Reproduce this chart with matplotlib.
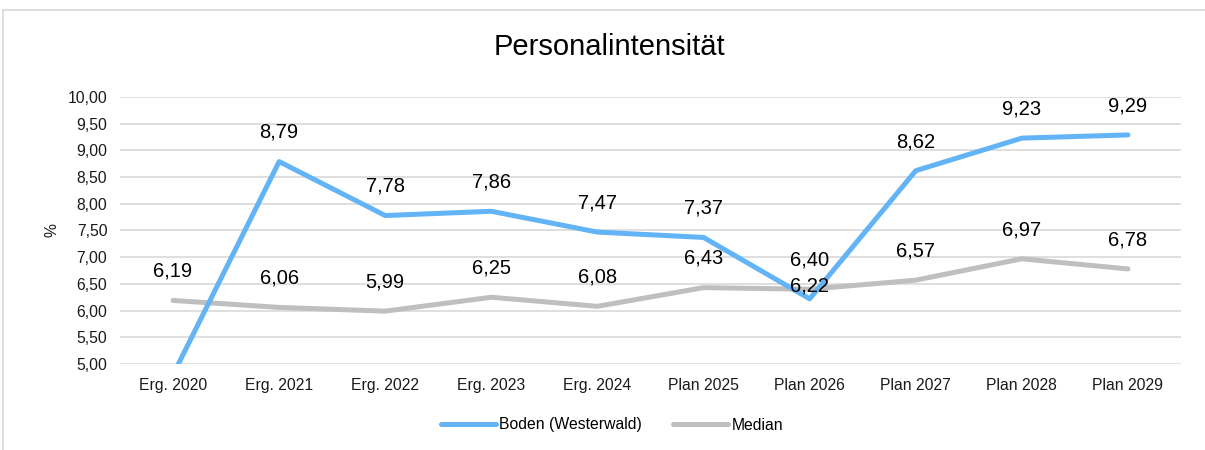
import matplotlib
matplotlib.use("Agg")
import matplotlib.pyplot as plt
from matplotlib.lines import Line2D

plt.rcParams["font.family"] = ["Liberation Sans", "DejaVu Sans"]

kategorien = ["Erg. 2020", "Erg. 2021", "Erg. 2022", "Erg. 2023", "Erg. 2024",
              "Plan 2025", "Plan 2026", "Plan 2027", "Plan 2028", "Plan 2029"]
boden = [4.80, 8.79, 7.78, 7.86, 7.47, 7.37, 6.22, 8.62, 9.23, 9.29]
median = [6.19, 6.06, 5.99, 6.25, 6.08, 6.43, 6.40, 6.57, 6.97, 6.78]
y_ticks = [5.0, 5.5, 6.0, 6.5, 7.0, 7.5, 8.0, 8.5, 9.0, 9.5, 10.0]

BLAU = "#62B4F6"
GRAU = "#BFBFBF"


def fmt(v):
    return f"{v:.2f}".replace(".", ",")


fig = plt.figure(figsize=(12.05, 4.5), dpi=100)
ax = fig.add_axes([120 / 1205, 1 - 364 / 450, 1061 / 1205, 267 / 450])

x = list(range(len(kategorien)))
ax.plot(x, boden, color=BLAU, linewidth=3.6, solid_capstyle="round",
        solid_joinstyle="round", zorder=3)
ax.plot(x, median, color=GRAU, linewidth=3.6, solid_capstyle="round",
        solid_joinstyle="round", zorder=2)

# Beschriftungen ueber den Punkten
for i, v in enumerate(boden):
    if v < y_ticks[0]:
        continue
    off = 9.5 if kategorien[i] == "Plan 2026" else 21
    ax.annotate(fmt(v), (i, v), xytext=(0, off), textcoords="offset points",
                ha="center", va="center", fontsize=14.5, color="black", zorder=4)
for i, v in enumerate(median):
    ax.annotate(fmt(v), (i, v), xytext=(0, 21), textcoords="offset points",
                ha="center", va="center", fontsize=14.5, color="black", zorder=4)

ax.set_xlim(-0.5, len(kategorien) - 0.5)
ax.set_ylim(y_ticks[0], y_ticks[-1])
ax.set_yticks(y_ticks)
ax.set_yticklabels([fmt(t) for t in y_ticks])
ax.set_xticks(x)
ax.set_xticklabels(kategorien)
ax.tick_params(axis="both", length=0, labelsize=11.3, colors="#1a1a1a")
ax.tick_params(axis="y", pad=9)
ax.tick_params(axis="x", pad=10)
ax.grid(True, axis="y", color="#D9D9D9", linewidth=1.2)
ax.set_axisbelow(True)
for s in ax.spines.values():
    s.set_visible(False)

ax.set_ylabel("%", fontsize=11.3, color="#1a1a1a")
ax.yaxis.set_label_coords(-0.057, 0.5)

fig.text(0.506, 1 - 47 / 450, "Personalintensität", ha="center", va="center",
         fontsize=21, color="black")

handles = [Line2D([], [], color=BLAU, linewidth=3.6, solid_capstyle="round"),
           Line2D([], [], color=GRAU, linewidth=3.6, solid_capstyle="round")]
fig.legend(handles, ["Boden (Westerwald)", "Median"], loc="center",
           bbox_to_anchor=(0.508, 1 - 425 / 450), ncol=2, frameon=False,
           fontsize=11.3, handlelength=3.5, handletextpad=0.2, columnspacing=2.0)

# Rahmen des Diagramms
fig.add_artist(Line2D([3 / 1205, 1.0], [1 - 10 / 450, 1 - 10 / 450],
                      color="#D9D9D9", linewidth=1.2))
fig.add_artist(Line2D([3 / 1205, 3 / 1205], [0.0, 1 - 10 / 450],
                      color="#D9D9D9", linewidth=1.2))

fig.savefig("out.png", dpi=100)
plt.close(fig)
